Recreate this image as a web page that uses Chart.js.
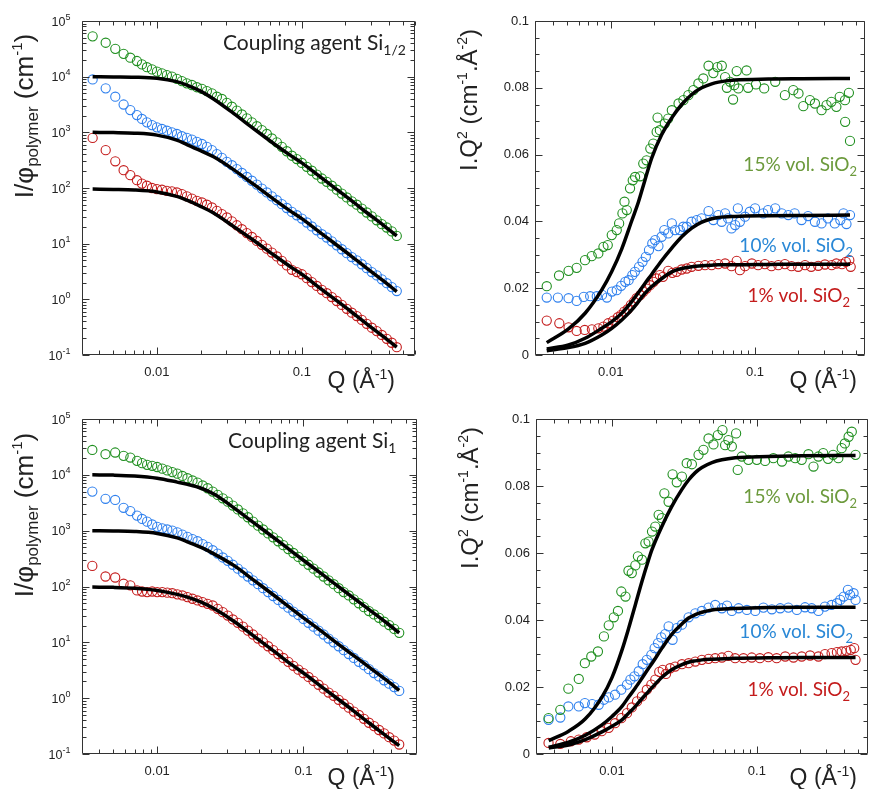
<!DOCTYPE html>
<html><head><meta charset="utf-8">
<script src="https://cdn.jsdelivr.net/npm/chart.js@4.4.0/dist/chart.umd.min.js"></script>
<style>
html,body{margin:0;padding:0;background:#fff;width:869px;height:789px;overflow:hidden;}
canvas{position:absolute;}
</style></head><body>
<canvas id="tl" style="left:0;top:0" width="435" height="395"></canvas>
<canvas id="tr" style="left:435px;top:0" width="434" height="395"></canvas>
<canvas id="bl" style="left:0;top:395px" width="435" height="394"></canvas>
<canvas id="br" style="left:435px;top:395px" width="434" height="394"></canvas>
<script>
// ---------- tick labels ----------
const xTickVals = [0.01, 0.1];
const xTickLabels = ['0.01', '0.1'];
const yLogTickVals = [0.1, 1, 10, 100, 1000, 10000, 100000];
const yLogTickExponents = ['-1', '0', '1', '2', '3', '4', '5'];
const yLinTickVals = [0, 0.02, 0.04, 0.06, 0.08, 0.1];
const yLinTickLabels = ['0', '0.02', '0.04', '0.06', '0.08', '0.1'];

// ---------- left panels: I/phi_polymer vs Q ----------
const qLeft = [0.0036,0.00443,0.00516,0.00589,0.00655,0.00728,0.00788,0.00853,0.00924,0.01,0.01083,0.01172,0.01269,0.01374,0.01487,0.0161,0.01743,0.01887,0.02043,0.02212,0.02395,0.02593,0.02807,0.03039,0.0329,0.03562,0.03857,0.04175,0.0452,0.04894,0.05298,0.05736,0.0621,0.06723,0.07279,0.0788,0.08531,0.09236,0.1,0.1083,0.1172,0.1269,0.1374,0.1487,0.161,0.1743,0.1887,0.2043,0.2212,0.2395,0.2593,0.2807,0.3039,0.329,0.3562,0.3857,0.4175,0.452];
const tlGreen = [53000,40700,31600,25700,21900,19100,16600,14800,13500,12300,11500,10700,10000,9120,8320,7590,7080,6460,6030,5500,5010,4370,3980,3390,2880,2450,2090,1780,1510,1290,1100,933,776,661,550,457,380,331,282,240,204,174,148,129,110,93.3,79.4,67.6,57.5,50.1,42.7,36.3,30.9,26.3,22.4,19.5,16.6,13.8];
const tlBlue = [8910,6170,4370,3160,2510,2040,1740,1510,1350,1230,1150,1070,1000,933,851,794,741,676,617,550,479,407,347,295,257,219,186,158,135,115,97.7,83.2,70.8,60.3,51.3,43.7,37.2,32.4,28.2,24.0,20.4,17.4,14.8,12.9,11.0,9.33,7.94,6.76,5.75,5.01,4.27,3.63,3.09,2.69,2.29,1.95,1.66,1.41];
const tlRed = [794,479,302,209,170,138,120,110,100,95.5,93.3,89.1,87.1,83.2,77.6,70.8,64.6,58.9,55.0,50.1,44.7,38.9,33.9,29.5,25.1,21.4,18.2,15.5,13.2,11.2,9.55,8.13,6.92,5.89,4.90,4.07,3.39,3.09,2.82,2.40,2.04,1.74,1.48,1.29,1.10,0.933,0.794,0.676,0.575,0.501,0.427,0.363,0.309,0.269,0.229,0.195,0.166,0.138];
const qFitLeft = [0.0036,0.005,0.007,0.01,0.0137,0.0161,0.02,0.0246,0.0338,0.0464,0.0638,0.083,0.1,0.134,0.165,0.216,0.28,0.366,0.452];
const tlFitGreen = [10000,9890,9770,9330,8130,7080,5500,3980,2190,1170,631,389,282,158,105,61.7,36.3,21.4,13.8];
const tlFitBlue = [1000,989,966,891,724,603,468,363,214,117,63.1,38.9,28.2,15.8,10.5,6.17,3.63,2.14,1.38];
const tlFitRed = [95.5,94.4,92.3,85.1,70.8,60.3,46.8,35.5,20.4,11.5,6.31,3.89,2.82,1.58,1.05,0.617,0.363,0.214,0.138];

const blGreen = [27900,23400,25100,21900,20400,17800,16200,15100,14500,13800,12900,12000,11200,10500,9550,8710,7940,7240,6460,5750,5010,4370,3800,3310,2820,2400,2040,1740,1450,1230,1050,891,759,646,550,468,398,339,288,245,209,178,151,129,110,93.3,79.4,69.2,58.9,50.1,42.7,36.3,31.6,27.5,23.4,20.4,17.4,14.8];
const blBlue = [5010,3720,3550,2570,2240,1860,1620,1450,1290,1170,1100,1050,1000,933,851,776,708,646,575,513,447,389,331,288,245,209,178,151,129,110,93.3,79.4,67.6,57.5,49.0,41.7,35.5,30.9,26.3,22.4,19.1,16.2,13.8,11.7,10.0,8.51,7.24,6.17,5.25,4.47,3.89,3.31,2.82,2.45,2.09,1.82,1.58,1.35];
const blRed = [234,151,145,112,105,85.1,81.3,79.4,81.3,79.4,79.4,77.6,75.9,72.4,69.2,64.6,60.3,56.2,52.5,49.0,45.7,39.8,34.7,30.2,25.7,22.4,19.1,16.2,13.8,11.7,10.0,8.51,7.24,6.17,5.25,4.47,3.80,3.24,2.82,2.40,2.04,1.74,1.48,1.26,1.10,0.933,0.794,0.676,0.575,0.501,0.427,0.363,0.316,0.269,0.234,0.200,0.174,0.148];
const blFitGreen = [10000,9890,9550,8710,7410,6760,5750,4470,2510,1350,724,427,295,166,110,64.6,38.9,22.9,14.8];
const blFitBlue = [1000,989,966,891,741,631,501,380,234,126,67.6,39.8,27.5,15.5,10.2,6.03,3.63,2.14,1.38];
const blFitRed = [97.7,96.6,93.3,85.1,72.4,64.6,52.5,39.8,23.4,12.6,6.76,3.98,2.82,1.58,1.05,0.617,0.363,0.214,0.141];

// ---------- top-right: I.Q^2 (Si 1/2) ----------
const trGreenQ = [0.0036,0.00438,0.0051,0.0058,0.00663,0.00738,0.0082,0.0089,0.00953,0.01016,0.011,0.01143,0.01205,0.01245,0.01291,0.0136,0.0142,0.01474,0.01597,0.0168,0.0177,0.0188,0.0197,0.0208,0.0211,0.0219,0.0237,0.025,0.0265,0.0295,0.0319,0.0345,0.0374,0.0405,0.0438,0.0476,0.0514,0.0548,0.0588,0.062,0.0638,0.0672,0.0704,0.0717,0.0746,0.0766,0.0873,0.0895,0.1015,0.1157,0.138,0.161,0.184,0.2,0.216,0.24,0.26,0.289,0.313,0.338,0.366,0.386,0.42,0.421,0.447,0.455];
const trGreen = [0.0206,0.0238,0.0252,0.0261,0.0284,0.0296,0.0304,0.0324,0.0329,0.0359,0.0374,0.0394,0.0424,0.0459,0.0434,0.0499,0.0523,0.0533,0.0535,0.0573,0.0583,0.0618,0.0633,0.0668,0.0711,0.0673,0.0693,0.0708,0.0733,0.0753,0.0763,0.0778,0.0793,0.0813,0.0828,0.0866,0.0844,0.0862,0.0866,0.0832,0.0800,0.0818,0.0765,0.0808,0.0850,0.0798,0.0852,0.0800,0.0810,0.0798,0.0818,0.0778,0.0793,0.0783,0.0745,0.0763,0.0753,0.0733,0.0748,0.0758,0.0743,0.0773,0.0763,0.0698,0.0785,0.0641];
const trBlueQ = [0.0036,0.0043,0.0051,0.0058,0.0065,0.0072,0.008,0.0087,0.0094,0.0102,0.011,0.0118,0.0126,0.0133,0.0141,0.0147,0.0157,0.0166,0.0175,0.0184,0.0194,0.0203,0.0214,0.0225,0.0235,0.025,0.0265,0.0279,0.0302,0.0318,0.0336,0.0363,0.0394,0.0426,0.0476,0.0514,0.0556,0.0587,0.062,0.065,0.0687,0.0728,0.076,0.0785,0.0852,0.092,0.1,0.114,0.123,0.138,0.153,0.17,0.188,0.21,0.233,0.26,0.289,0.32,0.357,0.39,0.41,0.43,0.455];
const trBlue = [0.0172,0.0172,0.0170,0.0162,0.0174,0.0176,0.0176,0.0180,0.0172,0.0190,0.0194,0.0207,0.0219,0.0224,0.0239,0.0249,0.0264,0.0279,0.0294,0.0314,0.0334,0.0344,0.0326,0.0354,0.0374,0.0364,0.0394,0.0374,0.0374,0.0384,0.0384,0.0399,0.0404,0.0409,0.0431,0.0404,0.0419,0.0399,0.0424,0.0409,0.0379,0.0389,0.0439,0.0399,0.0414,0.0429,0.0439,0.0424,0.0434,0.0439,0.0424,0.0419,0.0424,0.0404,0.0416,0.0399,0.0394,0.0409,0.0394,0.0404,0.0424,0.0392,0.0419];
const trRedQ = [0.0036,0.0044,0.0051,0.0058,0.0066,0.0074,0.0082,0.0089,0.0096,0.0104,0.0112,0.0118,0.0124,0.0131,0.0138,0.0145,0.0151,0.016,0.0168,0.0177,0.0187,0.0198,0.0208,0.0219,0.023,0.025,0.0267,0.0286,0.031,0.0336,0.0363,0.0405,0.045,0.05,0.0556,0.062,0.0687,0.0746,0.0785,0.0852,0.095,0.105,0.117,0.13,0.145,0.161,0.179,0.199,0.222,0.245,0.274,0.305,0.34,0.366,0.40,0.426,0.45,0.46];
const trRed = [0.0103,0.0095,0.0083,0.0072,0.0075,0.0077,0.0080,0.0085,0.0095,0.0103,0.0113,0.0120,0.0130,0.0137,0.0150,0.0160,0.0170,0.0179,0.0189,0.0199,0.0209,0.0219,0.0229,0.0239,0.0234,0.0252,0.0246,0.0249,0.0256,0.0259,0.0264,0.0267,0.0269,0.0269,0.0272,0.0274,0.0266,0.0282,0.0254,0.0266,0.0274,0.0269,0.0272,0.0266,0.0269,0.0272,0.0266,0.0264,0.0269,0.0264,0.0267,0.0271,0.0269,0.0274,0.0272,0.0279,0.0284,0.0264];
const trFitQ = [0.0036,0.00509,0.00664,0.00866,0.01016,0.01192,0.01398,0.01555,0.01729,0.01924,0.02256,0.02646,0.03103,0.0364,0.04271,0.05009,0.05572,0.07265,0.1237,0.2105,0.455];
const trFitGreen = [0.0037,0.0078,0.0125,0.0195,0.0250,0.0318,0.0402,0.0458,0.0525,0.0590,0.0660,0.0710,0.0750,0.0780,0.0800,0.0812,0.0817,0.0823,0.0826,0.0827,0.0828];
const trFitBlue = [0.0018,0.0030,0.0050,0.0080,0.0100,0.0125,0.0160,0.0187,0.0215,0.0242,0.0283,0.0320,0.0354,0.0380,0.0398,0.0408,0.0412,0.0415,0.0417,0.0418,0.0419];
const trFitRed = [0.0013,0.0022,0.0035,0.0060,0.0080,0.0105,0.0135,0.0160,0.0185,0.0205,0.0229,0.0249,0.0259,0.0264,0.0267,0.0269,0.0270,0.0270,0.0271,0.0272,0.0272];

// ---------- bottom-right: I.Q^2 (Si 1) ----------
const brGreenQ = [0.00365,0.0044,0.005,0.0059,0.0065,0.0072,0.008,0.0088,0.0095,0.0103,0.011,0.0116,0.0124,0.013,0.0137,0.0145,0.0151,0.0161,0.017,0.0179,0.0189,0.0199,0.021,0.0221,0.023,0.0246,0.0262,0.028,0.0304,0.0328,0.0356,0.0396,0.0428,0.0464,0.0502,0.0538,0.0579,0.0604,0.0636,0.0672,0.0719,0.0738,0.0787,0.0875,0.1,0.114,0.13,0.149,0.165,0.184,0.204,0.227,0.246,0.266,0.287,0.31,0.336,0.365,0.385,0.405,0.43,0.452,0.48];
const brGreen = [0.0107,0.0132,0.0195,0.0224,0.0271,0.0291,0.0306,0.0351,0.0384,0.0408,0.0427,0.0485,0.0470,0.0547,0.0540,0.0563,0.0590,0.0580,0.0629,0.0634,0.0664,0.0679,0.0714,0.0704,0.0778,0.0753,0.0835,0.0811,0.0828,0.0868,0.0865,0.0893,0.0908,0.0942,0.0924,0.0952,0.0967,0.0922,0.0937,0.0918,0.0957,0.0848,0.0888,0.0878,0.0878,0.0875,0.0883,0.0873,0.0888,0.0883,0.0878,0.0895,0.0858,0.0888,0.0898,0.0881,0.0893,0.0883,0.0913,0.0927,0.0947,0.0962,0.0893];
const brBlueQ = [0.00365,0.0044,0.005,0.0059,0.0065,0.0073,0.0081,0.0088,0.0095,0.0105,0.0116,0.0127,0.0134,0.0143,0.0153,0.0163,0.0174,0.0187,0.0197,0.0208,0.0219,0.0233,0.0246,0.0262,0.028,0.0304,0.0338,0.0376,0.0417,0.0464,0.0516,0.0574,0.0622,0.0672,0.0748,0.0854,0.0975,0.111,0.127,0.145,0.165,0.189,0.215,0.239,0.266,0.295,0.328,0.357,0.376,0.398,0.425,0.44,0.465,0.48];
const brBlue = [0.0102,0.0109,0.0142,0.0142,0.0152,0.0149,0.0147,0.0162,0.0169,0.0177,0.0192,0.0207,0.0222,0.0232,0.0247,0.0268,0.0281,0.0296,0.0316,0.0331,0.0348,0.0358,0.0381,0.0341,0.0376,0.0386,0.0408,0.0420,0.0427,0.0437,0.0445,0.0435,0.0443,0.0427,0.0435,0.0430,0.0427,0.0437,0.0432,0.0435,0.0437,0.0430,0.0438,0.0435,0.0427,0.0440,0.0445,0.0450,0.0460,0.0470,0.0490,0.0475,0.0480,0.0460];
const brRedQ = [0.00365,0.0044,0.0052,0.0059,0.0067,0.0076,0.0085,0.0095,0.0105,0.0116,0.0127,0.0137,0.0149,0.0161,0.0174,0.0187,0.0199,0.0212,0.0224,0.0236,0.0252,0.0273,0.0304,0.0338,0.0376,0.0417,0.0464,0.0516,0.0574,0.0636,0.0708,0.0808,0.0922,0.105,0.12,0.137,0.157,0.179,0.204,0.233,0.266,0.295,0.328,0.357,0.385,0.415,0.445,0.47,0.48];
const brRed = [0.0033,0.0030,0.0038,0.0043,0.0050,0.0058,0.0068,0.0078,0.0092,0.0107,0.0122,0.0139,0.0157,0.0172,0.0192,0.0207,0.0222,0.0245,0.0251,0.0239,0.0256,0.0261,0.0268,0.0271,0.0276,0.0281,0.0284,0.0286,0.0288,0.0293,0.0286,0.0286,0.0288,0.0286,0.0289,0.0286,0.0291,0.0288,0.0291,0.0294,0.0291,0.0298,0.0301,0.0304,0.0306,0.0308,0.0311,0.0316,0.0281];
const brFitQ = [0.00366,0.00502,0.00655,0.00853,0.01,0.01172,0.01303,0.01449,0.0161,0.0179,0.01888,0.02213,0.02594,0.0304,0.0338,0.03758,0.04178,0.04895,0.07095,0.1204,0.2043,0.48];
const brFitGreen = [0.0040,0.0068,0.0105,0.0170,0.0228,0.0310,0.0375,0.0445,0.0515,0.0580,0.0610,0.0680,0.0740,0.0790,0.0818,0.0840,0.0855,0.0870,0.0884,0.0888,0.0890,0.0891];
const brFitBlue = [0.0020,0.0035,0.0056,0.0087,0.0112,0.0142,0.0170,0.0197,0.0226,0.0256,0.0270,0.0316,0.0358,0.0388,0.0406,0.0416,0.0423,0.0430,0.0434,0.0437,0.0438,0.0438];
const brFitRed = [0.0018,0.0027,0.0043,0.0066,0.0083,0.0102,0.0122,0.0142,0.0165,0.0187,0.0198,0.0229,0.0252,0.0267,0.0274,0.0278,0.0281,0.0283,0.0286,0.0287,0.0288,0.0288];

// ---------- styling ----------
const GREEN = '#1f8f1f', BLUE = '#2f80ee', RED = '#c41c1c';
const TXT_GREEN = '#6c9a3c', TXT_BLUE = '#2a88d6', TXT_RED = '#c41c1c';
const FONT = '"Liberation Sans", Arial, Helvetica, sans-serif';
const ANN_FONT = 'Lato, "Open Sans", sans-serif';

function pts(xs, ys) { return xs.map((x, i) => ({ x: x, y: ys[i] })); }

function drawRich(ctx, t) {
  ctx.save();
  ctx.fillStyle = t.color || '#222';
  ctx.textBaseline = 'alphabetic';
  ctx.textAlign = 'left';
  const fam = t.family || FONT;
  let total = 0;
  const widths = t.parts.map(p => { ctx.font = p[1] + 'px ' + fam; const w = ctx.measureText(p[0]).width; total += w; return w; });
  ctx.translate(t.x, t.y);
  if (t.rotate) ctx.rotate(-Math.PI / 2);
  let s = t.align === 'center' ? -total / 2 : (t.align === 'right' ? -total : 0);
  t.parts.forEach((p, i) => { ctx.font = p[1] + 'px ' + fam; ctx.fillText(p[0], s, p[2] || 0); s += widths[i]; });
  ctx.restore();
}

const framePlugin = {
  id: 'frameTicks',
  afterDatasetsDraw(chart, args, o) {
    const ctx = chart.ctx, a = chart.chartArea, xs = chart.scales.x, ys = chart.scales.y;
    const L = Math.round(a.left) + 0.5, R = Math.round(a.right) - 0.5;
    const T = Math.round(a.top) + 0.5, B = Math.round(a.bottom) - 0.5;
    ctx.save();
    ctx.strokeStyle = '#333'; ctx.lineWidth = 1;
    ctx.beginPath();
    ctx.rect(L, T, R - L, B - T);
    for (let e = -3; e <= 0; e++) for (let k = 1; k <= 9; k++) {
      const v = k * Math.pow(10, e);
      if (v < xs.min || v > xs.max) continue;
      const p = Math.round(xs.getPixelForValue(v)) + 0.5, len = k === 1 ? 7 : 4;
      ctx.moveTo(p, B); ctx.lineTo(p, B - len);
      ctx.moveTo(p, T); ctx.lineTo(p, T + len);
    }
    if (o.yLog) {
      for (let e = -1; e <= 5; e++) for (let k = 1; k <= 9; k++) {
        const v = k * Math.pow(10, e);
        if (v < ys.min * 0.999 || v > ys.max * 1.001) continue;
        const p = Math.round(ys.getPixelForValue(v)) + 0.5, len = k === 1 ? 7 : 4;
        ctx.moveTo(L, p); ctx.lineTo(L + len, p);
        ctx.moveTo(R, p); ctx.lineTo(R - len, p);
      }
    } else {
      for (let i = 0; i <= 20; i++) {
        const p = Math.round(ys.getPixelForValue(i * 0.005)) + 0.5, len = i % 4 === 0 ? 7 : 4;
        ctx.moveTo(L, p); ctx.lineTo(L + len, p);
        ctx.moveTo(R, p); ctx.lineTo(R - len, p);
      }
    }
    ctx.stroke();
    if (o.yLog) {
      yLogTickVals.forEach((v, i) => {
        const p = ys.getPixelForValue(v);
        drawRich(ctx, { parts: [['10', 12.5, 0], [yLogTickExponents[i], 9, -6]], x: L - 12, y: p + 4.5, align: 'right', color: '#222' });
      });
    }
    ctx.restore();
  }
};
const textPlugin = {
  id: 'richTexts',
  afterDraw(chart, args, o) { (o.items || []).forEach(t => drawRich(chart.ctx, t)); }
};

function makePanel(id, p) {
  const datasets = [];
  p.fits.forEach(f => datasets.push({
    type: 'line', data: pts(f[0], f[1]), borderColor: '#000', borderWidth: 3.5,
    pointRadius: 0, fill: false, cubicInterpolationMode: 'monotone', order: 0
  }));
  p.series.forEach(s => datasets.push({
    type: 'scatter', data: pts(s[0], s[1]), borderColor: s[2], backgroundColor: 'rgba(0,0,0,0)',
    pointRadius: 4.6, pointBorderWidth: 1.1, showLine: false, order: 1
  }));
  const tickFont = { family: FONT, size: 13 };
  const yScale = p.yLog ? {
    type: 'logarithmic', min: 0.1, max: 100000,
    afterBuildTicks: s => { s.ticks = yLogTickVals.map(v => ({ value: v })); },
    ticks: { display: false }
  } : {
    type: 'linear', min: 0, max: 0.1,
    afterBuildTicks: s => { s.ticks = yLinTickVals.map(v => ({ value: v })); },
    ticks: { callback: (v, i) => yLinTickLabels[i], font: tickFont, color: '#222', padding: p.yPad, autoSkip: false }
  };
  Object.assign(yScale, {
    position: 'left', grid: { display: false, drawTicks: false }, border: { display: false },
    afterFit: s => { s.width = p.yW; s.paddingTop = 0; s.paddingBottom = 0; s.paddingLeft = 0; s.paddingRight = 0; }
  });
  new Chart(document.getElementById(id), {
    type: 'scatter',
    data: { datasets: datasets },
    options: {
      responsive: false, animation: false, devicePixelRatio: 1, events: [],
      layout: { autoPadding: false, padding: { left: 0, right: p.padR, top: p.padT, bottom: 0 } },
      plugins: { legend: { display: false }, tooltip: { enabled: false },
        frameTicks: { yLog: p.yLog }, richTexts: { items: p.texts } },
      scales: {
        x: {
          type: 'logarithmic', min: p.xMin, max: p.xMax, position: 'bottom',
          grid: { display: false, drawTicks: false }, border: { display: false },
          afterBuildTicks: s => { s.ticks = xTickVals.map(v => ({ value: v })); },
          afterFit: s => { s.height = p.xH; s.paddingLeft = 0; s.paddingRight = 0; s.paddingTop = 0; s.paddingBottom = 0; },
          ticks: { callback: (v, i) => xTickLabels[i], font: tickFont, color: '#222', padding: 10, maxRotation: 0, autoSkip: false }
        },
        y: yScale
      }
    },
    plugins: [framePlugin, textPlugin]
  });
}

const yTitleLeft = [['I/\u03C6', 26, 0], ['polymer', 17, 5], [' (cm', 26, 0], ['-1', 15, -11], [')', 26, 0]];
const yTitleRight = [['I.Q', 24, 0], ['2', 14, -10], [' (cm', 24, 0], ['-1', 14, -10], ['.\u00C5', 24, 0], ['-2', 14, -10], [')', 24, 0]];
const xTitle = [['Q (\u00C5', 23, 0], ['-1', 14, -9], [')', 23, 0]];
function volLabel(n) { return [[n + '% vol. SiO', 19, 0], ['2', 13, 5]]; }

makePanel('tl', {
  xMin: 0.00304, xMax: 0.604, yLog: true, yW: 82, xH: 40, padR: 20, padT: 21, yPad: 12,
  series: [[qLeft, tlGreen, GREEN], [qLeft, tlBlue, BLUE], [qLeft, tlRed, RED]],
  fits: [[qFitLeft, tlFitGreen], [qFitLeft, tlFitBlue], [qFitLeft, tlFitRed]],
  texts: [
    { parts: yTitleLeft, x: 33, y: 116, align: 'center', rotate: true },
    { parts: xTitle, x: 395, y: 388, align: 'right' },
    { parts: [['Coupling agent Si', 21, 0], ['1/2', 14, 5]], x: 223, y: 50, align: 'left', family: ANN_FONT }
  ]
});
makePanel('tr', {
  xMin: 0.002985, xMax: 0.578, yLog: false, yW: 100, xH: 40, padR: 4, padT: 21, yPad: 6,
  series: [[trGreenQ, trGreen, GREEN], [trBlueQ, trBlue, BLUE], [trRedQ, trRed, RED]],
  fits: [[trFitQ, trFitGreen], [trFitQ, trFitBlue], [trFitQ, trFitRed]],
  texts: [
    { parts: yTitleRight, x: 42, y: 100, align: 'center', rotate: true },
    { parts: xTitle, x: 422, y: 388, align: 'right' },
    { parts: volLabel(15), x: 422, y: 171, align: 'right', color: TXT_GREEN, family: ANN_FONT },
    { parts: volLabel(10), x: 418, y: 252, align: 'right', color: TXT_BLUE, family: ANN_FONT },
    { parts: volLabel(1), x: 415, y: 302, align: 'right', color: TXT_RED, family: ANN_FONT }
  ]
});
makePanel('bl', {
  xMin: 0.00306, xMax: 0.598, yLog: true, yW: 82, xH: 35, padR: 18, padT: 24, yPad: 12,
  series: [[qLeft, blGreen, GREEN], [qLeft, blBlue, BLUE], [qLeft, blRed, RED]],
  fits: [[qFitLeft, blFitGreen], [qFitLeft, blFitBlue], [qFitLeft, blFitRed]],
  texts: [
    { parts: yTitleLeft, x: 33, y: 120, align: 'center', rotate: true },
    { parts: xTitle, x: 395, y: 390, align: 'right' },
    { parts: [['Coupling agent Si', 21, 0], ['1', 14, 5]], x: 228, y: 53, align: 'left', family: ANN_FONT }
  ]
});
makePanel('br', {
  xMin: 0.00299, xMax: 0.585, yLog: false, yW: 101, xH: 35, padR: 1, padT: 24, yPad: 6,
  series: [[brGreenQ, brGreen, GREEN], [brBlueQ, brBlue, BLUE], [brRedQ, brRed, RED]],
  fits: [[brFitQ, brFitGreen], [brFitQ, brFitBlue], [brFitQ, brFitRed]],
  texts: [
    { parts: yTitleRight, x: 43, y: 103, align: 'center', rotate: true },
    { parts: xTitle, x: 422, y: 390, align: 'right' },
    { parts: volLabel(15), x: 422, y: 108, align: 'right', color: TXT_GREEN, family: ANN_FONT },
    { parts: volLabel(10), x: 418, y: 243, align: 'right', color: TXT_BLUE, family: ANN_FONT },
    { parts: volLabel(1), x: 415, y: 301, align: 'right', color: TXT_RED, family: ANN_FONT }
  ]
});
</script>
</body></html>
